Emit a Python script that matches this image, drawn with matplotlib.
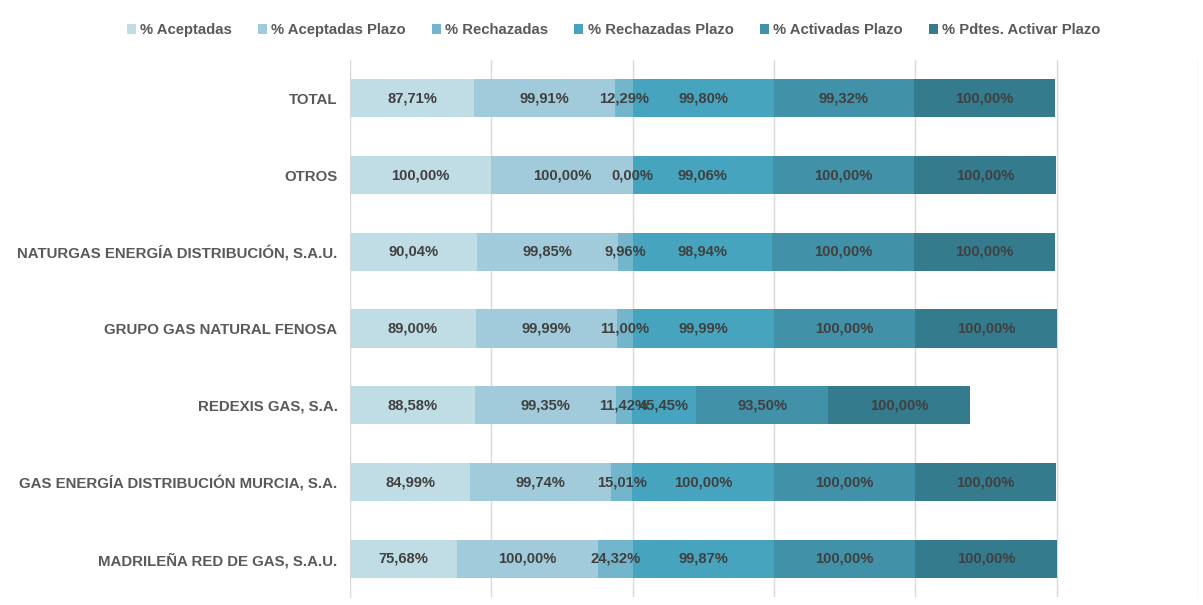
import numpy as np
import matplotlib.pyplot as plt

plt.rcParams['font.family'] = ['Liberation Sans', 'DejaVu Sans']

# datos (de abajo hacia arriba)
empresas = ["MADRILEÑA RED DE GAS, S.A.U.",
            "GAS ENERGÍA DISTRIBUCIÓN MURCIA, S.A.",
            "REDEXIS GAS, S.A.",
            "GRUPO GAS NATURAL FENOSA",
            "NATURGAS ENERGÍA DISTRIBUCIÓN, S.A.U.",
            "OTROS",
            "TOTAL"]
series = ["% Aceptadas", "% Aceptadas Plazo", "% Rechazadas",
          "% Rechazadas Plazo", "% Activadas Plazo", "% Pdtes. Activar Plazo"]

aceptadas = [75.68, 84.99, 88.58, 89.00, 90.04, 100.00, 87.71]
aceptadas_plazo = [100.00, 99.74, 99.35, 99.99, 99.85, 100.00, 99.91]
rechazadas = [24.32, 15.01, 11.42, 11.00, 9.96, 0.00, 12.29]
rechazadas_plazo = [99.87, 100.00, 45.45, 99.99, 98.94, 99.06, 99.80]
activadas_plazo = [100.00, 100.00, 93.50, 100.00, 100.00, 100.00, 99.32]
pdtes_plazo = [100.00, 100.00, 100.00, 100.00, 100.00, 100.00, 100.00]

valores = [aceptadas, aceptadas_plazo, rechazadas, rechazadas_plazo,
           activadas_plazo, pdtes_plazo]
colores = ["#C0DCE4", "#A1CADA", "#73B6CB", "#46A4BE", "#4191A8", "#357B8E"]

fig = plt.figure(figsize=(12.03, 6.05), dpi=100)
ax = fig.add_axes([0.291, 0.013, 0.705, 0.888])

y = np.arange(len(empresas))
izq = np.zeros(len(empresas))
for nombre, vals, col in zip(series, valores, colores):
    vals = np.array(vals)
    ax.barh(y, vals, left=izq, height=0.5, color=col, label=nombre, zorder=2)
    for yi, l, v in zip(y, izq, vals):
        ax.text(l + v / 2, yi, f"{v:.2f}%".replace(".", ","), ha="center",
                va="center", fontsize=10.6, fontweight="bold", color="#404040",
                zorder=3)
    izq += vals

ax.set_xlim(0, 600)
ax.set_ylim(-0.5, len(empresas) - 0.5)
ax.set_xticks(np.arange(0, 601, 100))
ax.xaxis.grid(True, color="#D9D9D9", linewidth=1, zorder=0)
ax.tick_params(axis="x", length=0, labelbottom=False)
ax.tick_params(axis="y", length=0, pad=9)
ax.set_yticks(y)
ax.set_yticklabels(empresas, fontsize=10.8, fontweight="bold", color="#595959")
for s in ["top", "right", "bottom"]:
    ax.spines[s].set_visible(False)
ax.spines["left"].set_color("#D9D9D9")

ley = fig.legend(loc="center", bbox_to_anchor=(0.51, 0.95), ncol=6,
                 frameon=False, handlelength=0.6, handleheight=0.6,
                 handletextpad=0.3, columnspacing=1.75,
                 prop={"size": 10.7, "weight": "bold"})
for t in ley.get_texts():
    t.set_color("#595959")

fig.savefig("out.png", dpi=100)
